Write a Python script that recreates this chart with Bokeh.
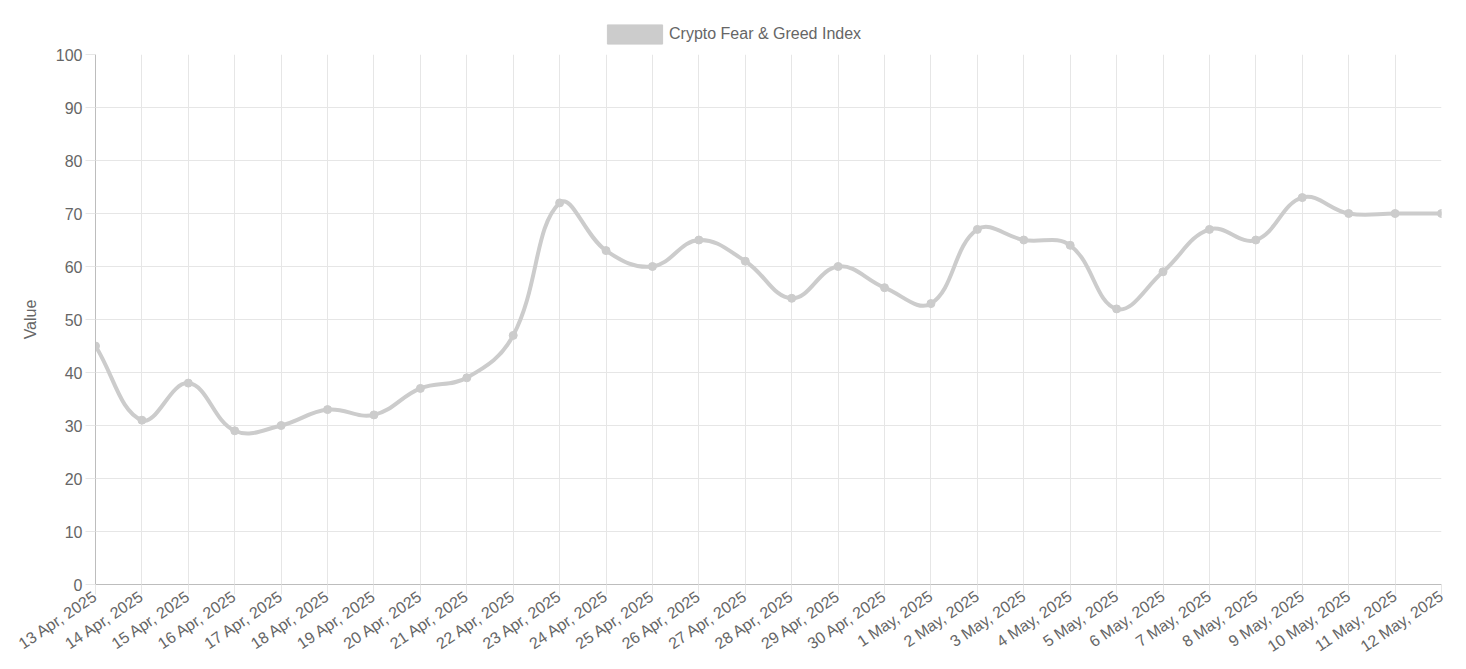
import math
import numpy as np
from bokeh.plotting import figure
from bokeh.layouts import column
from bokeh.models import Range1d, FixedTicker, Legend, LegendItem, ColumnDataSource
from bokeh.embed import file_html
from bokeh.resources import INLINE

# ---- data ----
dates = ["13 Apr, 2025", "14 Apr, 2025", "15 Apr, 2025", "16 Apr, 2025", "17 Apr, 2025",
         "18 Apr, 2025", "19 Apr, 2025", "20 Apr, 2025", "21 Apr, 2025", "22 Apr, 2025",
         "23 Apr, 2025", "24 Apr, 2025", "25 Apr, 2025", "26 Apr, 2025", "27 Apr, 2025",
         "28 Apr, 2025", "29 Apr, 2025", "30 Apr, 2025", "1 May, 2025", "2 May, 2025",
         "3 May, 2025", "4 May, 2025", "5 May, 2025", "6 May, 2025", "7 May, 2025",
         "8 May, 2025", "9 May, 2025", "10 May, 2025", "11 May, 2025", "12 May, 2025"]
fear_greed = [45, 31, 38, 29, 30, 33, 32, 37, 39, 47,
              72, 63, 60, 65, 61, 54, 60, 56, 53, 67,
              65, 64, 52, 59, 67, 65, 73, 70, 70, 70]
y_ticks = [0, 10, 20, 30, 40, 50, 60, 70, 80, 90, 100]
series_name = "Crypto Fear & Greed Index"

# ---- styles ----
FONT = "Liberation Sans"
TXT = "#666666"
GRID = "#e6e6e6"
AXIS = "#bdbdbd"
LINE = "#cccccc"
FS = "16px"

W = 1466
LEG_H = 46
H = 669 - LEG_H
BL, BR, BT, BB = 95, 25, 8, 85
FRAME_W, FRAME_H = W - BL - BR, H - BT - BB

n = len(fear_greed)
xi = np.arange(n, dtype=float)
yv = np.array(fear_greed, dtype=float)

# Chart.js-style spline (tension 0.4) computed in pixel space
T = 0.4
sx = FRAME_W / (n - 1)
sy = FRAME_H / 100.0
X = xi * sx
Y = yv * sy
cpp_x = np.zeros(n); cpp_y = np.zeros(n); cpn_x = np.zeros(n); cpn_y = np.zeros(n)
for i in range(n):
    a = max(i - 1, 0); b = min(i + 1, n - 1)
    d01 = math.hypot(X[i] - X[a], Y[i] - Y[a])
    d12 = math.hypot(X[b] - X[i], Y[b] - Y[i])
    tot = d01 + d12
    s01 = d01 / tot if tot else 0.0
    s12 = d12 / tot if tot else 0.0
    fa, fb = T * s01, T * s12
    cpp_x[i] = X[i] - fa * (X[b] - X[a]); cpp_y[i] = Y[i] - fa * (Y[b] - Y[a])
    cpn_x[i] = X[i] + fb * (X[b] - X[a]); cpn_y[i] = Y[i] + fb * (Y[b] - Y[a])
cpp_y = np.clip(cpp_y, 0, FRAME_H); cpn_y = np.clip(cpn_y, 0, FRAME_H)

bez = ColumnDataSource(dict(
    x0=xi[:-1], y0=yv[:-1], x1=xi[1:], y1=yv[1:],
    cx0=cpn_x[:-1] / sx, cy0=cpn_y[:-1] / sy,
    cx1=cpp_x[1:] / sx, cy1=cpp_y[1:] / sy,
))

# ---- legend strip (own small figure so the legend is not clipped) ----
leg = figure(width=W, height=LEG_H, output_backend="svg", toolbar_location=None,
             x_range=Range1d(0, 1), y_range=Range1d(0, 1),
             x_axis_type=None, y_axis_type=None,
             min_border_left=0, min_border_right=0, min_border_top=0, min_border_bottom=0)
leg.outline_line_color = None
leg.grid.visible = False
nan = float("nan")
proxy = leg.quad(left=[nan], right=[nan], top=[nan], bottom=[nan],
                 fill_color=LINE, line_color=LINE, line_width=1)
legend = Legend(items=[LegendItem(label=series_name, renderers=[proxy])],
                location=(505, 0), orientation="horizontal",
                glyph_width=69, glyph_height=24, label_height=24, label_standoff=0,
                padding=0, margin=0, border_line_color=None, background_fill_alpha=0,
                label_text_font=FONT, label_text_font_size=FS, label_text_color=TXT)
leg.add_layout(legend, "center")

# ---- main chart ----
p = figure(width=W, height=H, output_backend="svg", toolbar_location=None,
           x_range=Range1d(0, n - 1), y_range=Range1d(0, 100),
           min_border_left=BL, min_border_right=BR, min_border_top=BT, min_border_bottom=BB)
p.outline_line_color = None
p.background_fill_color = "white"
p.border_fill_color = "white"

p.bezier(x0="x0", y0="y0", x1="x1", y1="y1", cx0="cx0", cy0="cy0", cx1="cx1", cy1="cy1",
         source=bez, line_color=LINE, line_width=4, line_cap="round")
p.scatter(xi, yv, size=8, fill_color=LINE, line_color=LINE)

xa = p.xaxis[0]
xa.ticker = FixedTicker(ticks=list(range(n)))
xa.major_label_overrides = {i: d for i, d in enumerate(dates)}
xa.major_label_orientation = math.radians(34)
ya = p.yaxis[0]
ya.ticker = FixedTicker(ticks=y_ticks)
ya.axis_label = "Value"
ya.axis_label_text_font = FONT
ya.axis_label_text_font_size = FS
ya.axis_label_text_font_style = "normal"
ya.axis_label_text_color = TXT
ya.axis_label_standoff = 14
for ax in (xa, ya):
    ax.axis_line_color = AXIS
    ax.major_tick_line_color = GRID
    ax.major_tick_out = 10
    ax.major_tick_in = 0
    ax.minor_tick_line_color = None
    ax.major_label_text_font = FONT
    ax.major_label_text_font_size = FS
    ax.major_label_text_color = TXT
ya.major_label_standoff = 3
xa.major_label_standoff = 0

p.xgrid.ticker = FixedTicker(ticks=list(range(n)))
p.ygrid.ticker = FixedTicker(ticks=y_ticks)
p.grid.grid_line_color = GRID

layout = column(leg, p, spacing=0)
open("out.html", "w").write(file_html(layout, INLINE))
